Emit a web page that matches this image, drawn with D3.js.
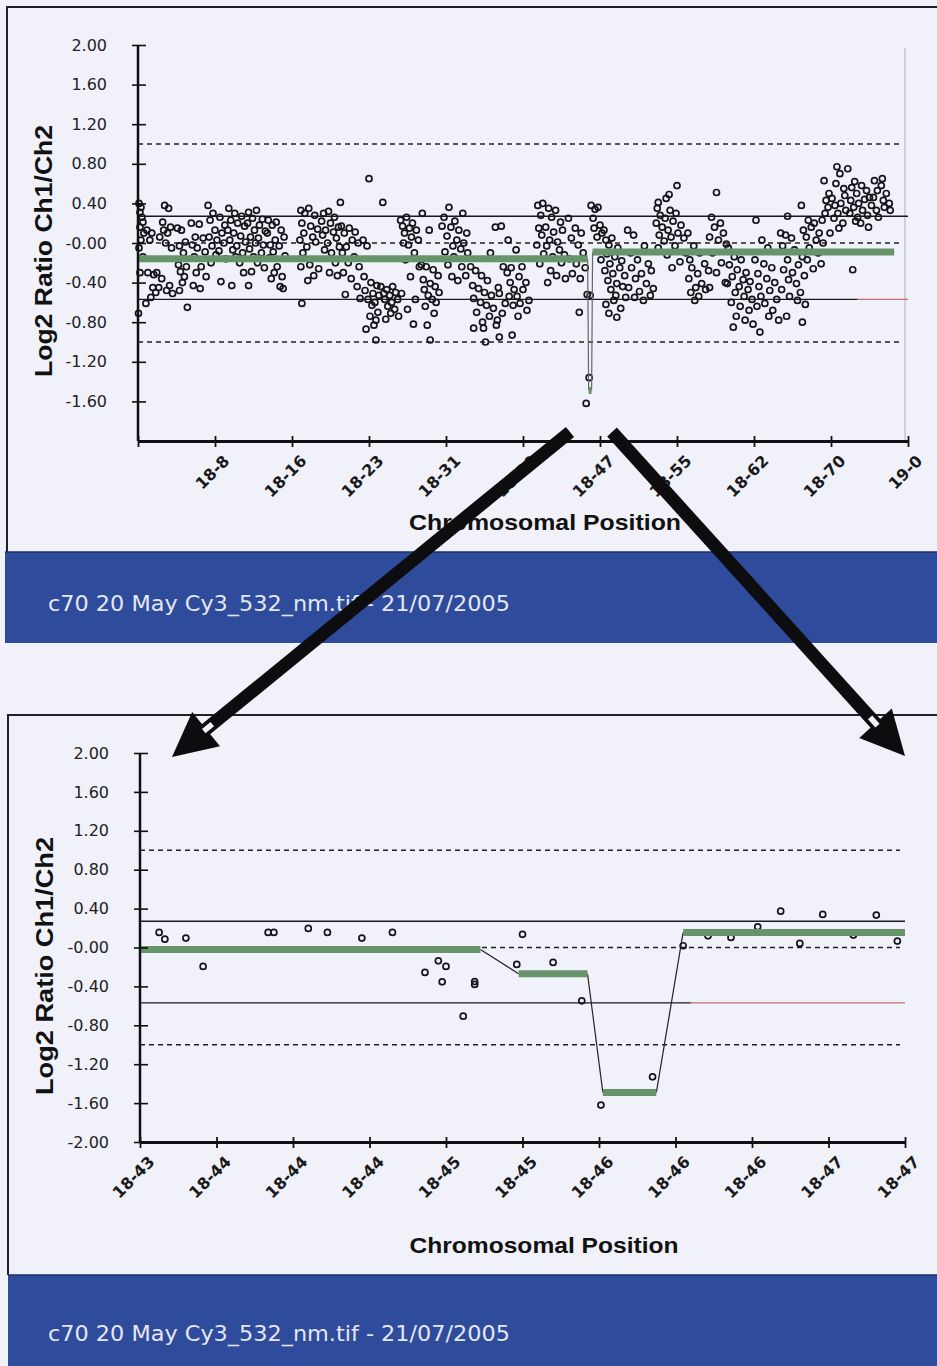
<!DOCTYPE html>
<html>
<head>
<meta charset="utf-8">
<script src="https://cdn.jsdelivr.net/npm/d3@7/dist/d3.min.js"></script>
<style>
  html, body { margin: 0; padding: 0; background: #f1f1f9; }
  svg { display: block; }
</style>
</head>
<body>
<svg id="page" width="937" height="1366"></svg>
<script>
// ---- data (positions in Mb on chromosome 18, values are log2 ratio) ----
var topTickPositions = [0, 7.8, 15.6, 23.4, 31.2, 39.0, 46.8, 54.6, 62.4, 70.2, 78.0]
var topTickLabels = ['', '18-8', '18-16', '18-23', '18-31', '18-39', '18-47', '18-55', '18-62', '18-70', '19-0']
var zoomTickPositions = [43.25, 43.65, 44.05, 44.45, 44.85, 45.25, 45.65, 46.05, 46.45, 46.85, 47.25]
var zoomTickLabels = ['18-43', '18-44', '18-44', '18-44', '18-45', '18-45', '18-46', '18-46', '18-46', '18-47', '18-47']
var yTickValues = [2, 1.6, 1.2, 0.8, 0.4, 0, -0.4, -0.8, -1.2, -1.6, -2]
var yTickLabels = ['2.00', '1.60', '1.20', '0.80', '0.40', '-0.00', '-0.40', '-0.80', '-1.20', '-1.60', '-2.00']
var dashedLevels = [1, 0, -1]
var upperLimit = 0.27
var lowerLimit = -0.57
var topRedFrom = 72.9
var zoomRedFrom = 46.13

// segments: [start, end, mean]
var topSegments = [[0, 45.55, -0.16], [45.65, 45.95, -1.49], [46.05, 76.6, -0.09]]
var zoomSegments = [[43.25, 45.03, -0.02], [45.23, 45.59, -0.27], [45.67, 45.95, -1.49], [46.09, 47.25, 0.155]]

var zoomPoints = [
  [43.35, 0.155], [43.38, 0.086], [43.49, 0.097], [43.58, -0.195], [43.92, 0.155], [43.95, 0.155],
  [44.13, 0.196], [44.23, 0.155], [44.41, 0.097], [44.57, 0.155], [44.74, -0.256], [44.81, -0.137],
  [44.85, -0.195], [44.83, -0.353], [44.94, -0.706], [45.00, -0.35], [45.00, -0.38], [45.25, 0.135],
  [45.22, -0.174], [45.41, -0.153], [45.56, -0.548], [45.66, -1.62], [45.93, -1.33], [46.09, 0.018],
  [46.22, 0.12], [46.34, 0.104], [46.48, 0.213], [46.60, 0.374], [46.70, 0.042], [46.82, 0.34],
  [46.98, 0.128], [47.10, 0.333], [47.21, 0.066]
]

var topPoints = [
  [0.1,0.40],[0.3,0.36],[0.2,0.31],[0.4,0.26],[0.5,0.21],[0.2,0.16],[0.6,0.10],[0.3,0.03],[0.1,-0.05],[0.5,-0.14],[0.2,-0.30],[0.05,-0.71],
  [0.9,0.13],[1.4,0.10],[1.2,0.03],[1.0,-0.30],[1.6,-0.32],[1.9,-0.30],[1.5,-0.45],[1.8,-0.50],[1.3,-0.55],[0.8,-0.61],
  [2.7,0.38],[3.1,0.35],[2.5,0.21],[3.3,0.16],[2.6,0.13],[3.0,0.10],[2.2,0.06],[2.8,0.00],[3.4,-0.05],[2.4,-0.36],[3.2,-0.43],[2.9,-0.48],[3.5,-0.51],[2.1,-0.45],
  [4.0,0.15],[4.4,0.13],[4.8,0.01],[4.2,-0.03],[4.6,-0.10],[4.1,-0.22],[4.9,-0.24],[4.3,-0.29],[4.7,-0.34],[4.5,-0.40],[4.2,-0.48],[5.0,-0.65],
  [5.4,0.20],[6.2,0.19],[5.8,0.06],[6.6,0.05],[5.5,-0.02],[6.0,-0.05],[6.8,-0.09],[5.7,-0.14],[6.4,-0.24],[5.9,-0.30],[6.9,-0.34],[5.6,-0.43],[6.3,-0.46],
  [7.1,0.38],[7.6,0.30],[8.3,0.26],[7.3,0.23],[8.8,0.18],[7.8,0.13],[8.5,0.10],[7.2,0.06],[8.0,0.03],[8.7,0.00],[7.5,-0.03],[8.2,-0.08],[7.9,-0.12],[8.9,-0.16],[7.4,-0.20],[8.4,-0.39],
  [9.2,0.35],[9.8,0.30],[10.5,0.27],[9.4,0.23],[10.1,0.20],[10.8,0.17],[9.1,0.13],[9.7,0.10],[10.4,0.07],[9.3,0.03],[10.9,0.01],[10.0,-0.03],[9.6,-0.07],[10.6,-0.10],[9.9,-0.14],[10.3,-0.20],[9.5,-0.43],[10.7,-0.30],
  [11.2,0.31],[12.0,0.33],[11.6,0.25],[12.6,0.24],[11.1,0.20],[12.3,0.18],[11.8,0.13],[12.9,0.12],[11.4,0.06],[12.2,0.05],[11.9,0.00],[12.7,-0.02],[11.3,-0.06],[12.5,-0.10],[11.7,-0.14],[12.1,-0.20],[12.8,-0.25],[11.5,-0.29],[11.2,-0.43],
  [13.2,0.23],[14.0,0.21],[13.6,0.18],[14.5,0.13],[13.1,0.10],[14.8,0.06],[13.9,0.03],[13.4,-0.02],[14.3,-0.03],[13.7,-0.09],[14.9,-0.13],[13.3,-0.15],[14.1,-0.24],[13.8,-0.30],[14.6,-0.34],[13.5,-0.36],[14.4,-0.44],[14.7,-0.46],
  [16.5,0.33],[17.3,0.35],[16.9,0.30],[17.9,0.28],[16.6,0.20],[17.5,0.17],[18.2,0.14],[16.8,0.10],[17.7,0.06],[16.4,0.03],[18.0,0.01],[17.1,-0.04],[16.7,-0.10],[17.4,-0.22],[18.3,-0.26],[16.5,-0.24],[17.8,-0.33],[17.2,-0.38],[16.6,-0.61],
  [20.5,0.41],[19.3,0.32],[18.8,0.30],[19.9,0.26],[18.6,0.22],[19.5,0.20],[20.3,0.16],[19.0,0.13],[19.8,0.11],[18.7,0.08],[20.1,0.05],[19.2,0.00],[20.4,-0.04],[18.9,-0.07],[19.6,-0.10],[20.0,-0.20],[19.4,-0.30],[20.2,-0.33],
  [20.6,0.17],[21.4,0.15],[22.0,0.11],[20.9,0.10],[21.7,0.03],[22.3,0.00],[21.1,-0.04],[20.7,-0.10],[21.9,-0.14],[21.3,-0.20],[22.4,-0.24],[20.8,-0.30],[21.6,-0.36],[22.2,-0.44],[21.0,-0.52],[22.5,-0.56],
  [23.4,0.65],[22.8,0.03],[23.2,-0.03],[22.9,-0.34],[23.6,-0.40],[24.2,-0.43],[23.0,-0.48],[23.8,-0.51],[24.4,-0.53],[23.3,-0.57],[24.0,-0.60],[23.7,-0.63],[24.3,-0.70],[23.5,-0.74],[24.1,-0.78],[23.9,-0.83],[23.1,-0.87],[24.1,-0.98],
  [24.8,0.41],[24.6,-0.44],[25.2,-0.47],[25.8,-0.44],[24.9,-0.51],[25.5,-0.53],[26.1,-0.50],[25.0,-0.57],[25.7,-0.60],[26.3,-0.57],[25.3,-0.64],[26.0,-0.67],[25.6,-0.71],[26.4,-0.74],[25.1,-0.77],
  [26.6,0.23],[27.2,0.26],[27.8,0.20],[26.8,0.17],[27.5,0.15],[28.2,0.13],[27.0,0.10],[27.7,0.06],[28.4,0.03],[26.9,0.00],[27.4,-0.02],[28.0,-0.10],[27.1,-0.17],[28.5,-0.24],[27.6,-0.34],[26.7,-0.51],[28.1,-0.57],[27.3,-0.67],[27.9,-0.82],
  [28.8,0.30],[29.5,0.13],[28.7,-0.22],[29.2,-0.24],[29.9,-0.27],[30.4,-0.33],[28.9,-0.37],[29.6,-0.41],[30.1,-0.44],[29.0,-0.47],[30.5,-0.50],[29.4,-0.53],[29.8,-0.57],[30.2,-0.60],[29.1,-0.64],[30.0,-0.71],[29.3,-0.83],[29.6,-0.98],
  [31.5,0.36],[32.9,0.30],[31.0,0.26],[32.1,0.22],[30.8,0.17],[31.7,0.16],[32.5,0.13],[33.3,0.10],[31.3,0.07],[32.3,0.03],[33.0,0.00],[31.9,-0.03],[32.7,-0.06],[31.1,-0.09],[33.4,-0.10],[32.0,-0.14],[31.4,-0.22],[32.8,-0.24],[33.2,-0.33],[31.8,-0.34],[32.4,-0.38],
  [33.7,-0.24],[34.2,-0.28],[34.8,-0.33],[35.4,-0.38],[33.9,-0.43],[34.5,-0.46],[35.1,-0.50],[35.8,-0.53],[34.0,-0.56],[34.7,-0.60],[35.3,-0.63],[36.0,-0.66],[34.3,-0.70],[35.6,-0.74],[34.9,-0.80],[35.0,-0.86],[36.3,-0.83],[35.2,-1.00],[36.2,0.16],[35.7,-0.10],[36.5,-0.45],[34.0,-0.86],
  [36.8,0.17],[37.0,-0.24],[36.6,-0.51],[37.2,-0.61],[36.9,-0.71],[36.4,-0.78],[36.6,-0.95],
  [37.5,0.03],[38.3,-0.07],[37.8,-0.25],[38.9,-0.24],[37.4,-0.30],[38.6,-0.34],[39.3,-0.40],[37.7,-0.40],[38.1,-0.47],[39.0,-0.47],[38.4,-0.54],[37.6,-0.54],[39.6,-0.58],[38.7,-0.61],[38.0,-0.63],[39.4,-0.68],[38.5,-0.74],[37.9,-0.93],
  [40.5,0.38],[41.0,0.40],[41.6,0.35],[42.3,0.33],[40.8,0.28],[41.9,0.26],[42.8,0.21],[40.6,0.15],[41.3,0.16],[42.1,0.11],[43.0,0.13],[40.9,0.08],[41.7,0.03],[42.5,0.01],[40.4,-0.02],[41.4,-0.03],[42.7,-0.07],[41.1,-0.11],[42.0,-0.14],[43.2,-0.12],[40.7,-0.21],[41.8,-0.28],[42.9,-0.20],[42.4,-0.33],[41.5,-0.40],[43.3,-0.36],
  [43.6,0.25],[44.3,0.15],[44.9,0.10],[43.9,0.05],[44.6,-0.02],[45.1,-0.10],[43.7,-0.16],[44.4,-0.21],[45.3,-0.25],[44.0,-0.31],[44.8,-0.36],[45.5,-0.52],[44.7,-0.70],[45.4,-1.62],[45.7,-1.36],
  [45.9,0.38],[46.3,0.34],[46.6,0.36],[46.1,0.25],[46.8,0.18],[46.2,0.15],[47.0,0.10],[46.5,0.06],[47.4,0.03],[47.7,-0.02],[46.9,-0.17],[45.8,-0.53],
  [47.2,0.13],[48.0,0.05],[48.6,-0.05],[47.5,-0.11],[48.3,-0.14],[49.0,-0.18],[47.8,-0.21],[48.8,-0.25],[47.3,-0.28],[48.1,-0.31],[49.3,-0.33],[47.6,-0.38],[48.5,-0.41],[49.1,-0.44],[47.9,-0.47],[48.4,-0.53],[49.4,-0.55],[48.2,-0.58],[47.4,-0.62],[48.9,-0.66],[48.5,-0.75],[47.7,-0.71],
  [49.6,0.13],[50.2,0.08],[51.3,-0.03],[49.9,-0.10],[50.6,-0.17],[51.7,-0.21],[50.0,-0.25],[51.0,-0.31],[52.0,-0.28],[50.4,-0.36],[51.5,-0.41],[49.7,-0.45],[50.8,-0.49],[51.9,-0.53],[50.3,-0.55],[51.2,-0.58],[52.2,-0.46],
  [52.7,0.41],[54.6,0.58],[53.8,0.49],[53.5,0.45],[52.6,0.35],[53.9,0.33],[52.9,0.28],[54.5,0.30],[53.4,0.25],[54.2,0.22],[52.5,0.20],[53.1,0.16],[55.0,0.18],[53.7,0.13],[54.7,0.10],[52.8,0.08],[54.0,0.06],[55.3,0.05],[53.3,0.02],[54.4,-0.03],[52.7,-0.05],[55.5,-0.10],[53.6,-0.12],[54.9,-0.19],[54.1,-0.25],
  [55.7,0.10],[56.3,-0.03],[56.9,-0.10],[55.9,-0.17],[57.4,-0.21],[56.1,-0.25],[56.7,-0.31],[57.8,-0.28],[55.8,-0.36],[57.1,-0.41],[56.5,-0.45],[57.5,-0.47],[56.0,-0.50],[56.8,-0.54],[57.9,-0.45],[56.4,-0.58],
  [58.6,0.51],[58.1,0.26],[59.0,0.20],[58.4,0.16],[59.3,0.10],[57.9,0.06],[58.8,0.03],[59.6,-0.01],[58.2,-0.10],[59.1,-0.20],[58.6,-0.30],[59.5,-0.40],
  [59.8,-0.05],[60.4,-0.14],[61.1,-0.17],[59.9,-0.22],[60.7,-0.27],[61.6,-0.30],[60.2,-0.34],[61.3,-0.37],[62.0,-0.39],[59.7,-0.41],[60.9,-0.44],[61.8,-0.47],[60.5,-0.50],[61.4,-0.54],[62.2,-0.57],[60.1,-0.60],[61.0,-0.64],[61.9,-0.68],[60.6,-0.74],[61.5,-0.78],[62.3,-0.82],[60.3,-0.85],
  [62.6,0.23],[63.2,0.03],[63.8,-0.05],[62.5,-0.17],[63.4,-0.21],[64.2,-0.25],[62.8,-0.31],[63.7,-0.36],[64.5,-0.40],[62.9,-0.44],[64.0,-0.48],[63.1,-0.54],[64.7,-0.57],[63.5,-0.61],[62.7,-0.64],[64.3,-0.68],[63.9,-0.74],[64.9,-0.78],[63.0,-0.90],
  [65.1,0.10],[65.6,0.08],[66.2,0.05],[65.3,-0.03],[66.5,-0.07],[67.3,-0.14],[65.8,-0.17],[66.9,-0.22],[65.4,-0.27],[66.3,-0.30],[67.5,-0.33],[65.9,-0.37],[66.7,-0.41],[65.2,-0.47],[67.1,-0.50],[66.0,-0.54],[66.8,-0.58],[65.7,-0.74],[67.6,-0.62],[65.8,0.27],[67.3,-0.80],
  [67.2,0.38],[67.9,0.23],[68.5,0.20],[67.4,0.13],[68.2,0.16],[69.0,0.10],[67.7,0.06],[68.7,0.03],[69.4,0.00],[68.0,-0.05],[68.9,-0.10],[67.8,-0.17],[69.2,-0.21],[68.4,-0.26],
  [69.5,0.63],[70.0,0.50],[70.8,0.77],[71.1,0.70],[69.7,0.43],[70.7,0.60],[71.5,0.55],[69.9,0.36],[70.3,0.45],[71.2,0.40],[70.9,0.30],[71.7,0.33],[69.3,0.23],[70.5,0.25],[71.4,0.20],[70.1,0.10],[71.0,0.15],[69.6,0.30],[70.6,0.38],[71.6,0.48],
  [71.9,0.75],[72.6,0.62],[73.3,0.58],[72.3,0.56],[73.8,0.53],[72.8,0.50],[74.1,0.46],[72.2,0.43],[73.0,0.40],[73.6,0.44],[74.3,0.38],[72.5,0.36],[73.4,0.33],[72.1,0.30],[73.9,0.28],[72.9,0.26],[73.2,0.20],[74.0,0.16],[72.7,0.22],[72.4,-0.27],
  [74.6,0.63],[75.4,0.65],[75.3,0.58],[74.9,0.53],[75.8,0.50],[74.5,0.46],[75.5,0.43],[76.1,0.40],[74.8,0.33],[75.6,0.36],[75.0,0.26],[76.2,0.33]
]

var bannerText = 'c70 20 May Cy3_532_nm.tif - 21/07/2005'
var xTitle = 'Chromosomal Position'
var yTitle = 'Log2 Ratio Ch1/Ch2'

// ---- drawing ----
var svg = d3.select('#page')
svg.append('rect').attr('width', 937).attr('height', 1366).attr('fill', '#f1f1f9')

var panels = [
  {
    points: topPoints, segments: topSegments, xDomain: [0, 78],
    ticks: topTickPositions, tickLabels: topTickLabels, redFrom: topRedFrom,
    xRange: [138, 908], yRange: [441, 45], labelledTicks: 10,
    frame: { left: 7, top: 7, bottom: 552 }, banner: { x: 5, y: 552, h: 91, textY: 611 },
    xt: { x: 545, y: 530, len: 272 }, yt: { x: 52, y: 251, len: 252 },
    rightRule: true, connColor: '#666'
  },
  {
    points: zoomPoints, segments: zoomSegments, xDomain: [43.25, 47.25],
    ticks: zoomTickPositions, tickLabels: zoomTickLabels, redFrom: zoomRedFrom,
    xRange: [140, 905], yRange: [1142, 753], labelledTicks: 11,
    frame: { left: 8, top: 715, bottom: 1275 }, banner: { x: 8, y: 1275, h: 91, textY: 1341 },
    xt: { x: 544, y: 1253, len: 269 }, yt: { x: 53, y: 966, len: 258 },
    rightRule: false, connColor: '#222'
  }
]

panels.forEach(function (p) {
  var x = d3.scaleLinear().domain(p.xDomain).range(p.xRange)
  var y = d3.scaleLinear().domain([-2, 2]).range(p.yRange)
  var g = svg.append('g')
  var x0 = p.xRange[0], x1 = p.xRange[1]

  // frame and banner
  g.append('path')
    .attr('d', 'M' + p.frame.left + ',' + p.frame.bottom + 'V' + p.frame.top + 'H937')
    .attr('fill', 'none').attr('stroke', '#222').attr('stroke-width', 2)
  g.append('rect').attr('x', p.banner.x).attr('y', p.banner.y)
    .attr('width', 937 - p.banner.x).attr('height', p.banner.h).attr('fill', '#2f4b9b')
  g.append('line').attr('x1', p.banner.x).attr('x2', 937).attr('y1', p.banner.y).attr('y2', p.banner.y)
    .attr('stroke', '#1e2f6a').attr('stroke-width', 1.5)
  g.append('text').attr('x', 48).attr('y', p.banner.textY)
    .attr('font-family', 'DejaVu Sans, sans-serif').attr('font-size', 21)
    .attr('fill', '#e4e7f3').attr('textLength', 462).attr('lengthAdjust', 'spacingAndGlyphs')
    .text(bannerText)

  if (p.rightRule) {
    g.append('line').attr('x1', x1 - 3).attr('x2', x1 - 3).attr('y1', y(1.97)).attr('y2', y(-2))
      .attr('stroke', '#c4c4d2').attr('stroke-width', 1.5)
  }

  // threshold lines
  dashedLevels.forEach(function (v) {
    g.append('line').attr('x1', x0).attr('x2', x1 - 5).attr('y1', y(v)).attr('y2', y(v))
      .attr('stroke', '#222').attr('stroke-width', 1.3).attr('stroke-dasharray', '5,4')
  })
  g.append('line').attr('x1', x0).attr('x2', x1).attr('y1', y(upperLimit)).attr('y2', y(upperLimit))
    .attr('stroke', '#1a1a1a').attr('stroke-width', 1.3)
  g.append('line').attr('x1', x0).attr('x2', x(p.redFrom)).attr('y1', y(lowerLimit)).attr('y2', y(lowerLimit))
    .attr('stroke', '#1a1a1a').attr('stroke-width', 1.3)
  g.append('line').attr('x1', x(p.redFrom)).attr('x2', x1).attr('y1', y(lowerLimit)).attr('y2', y(lowerLimit))
    .attr('stroke', '#c86a6a').attr('stroke-width', 1.3)

  // probes
  g.append('g').selectAll('circle').data(p.points).enter().append('circle')
    .attr('cx', function (d) { return x(d[0]) })
    .attr('cy', function (d) { return y(d[1]) })
    .attr('r', 3)
    .attr('fill', 'none').attr('stroke', '#15151a').attr('stroke-width', 1.7)

  // thin connectors between segments
  var conn = []
  for (var i = 0; i < p.segments.length - 1; i++) {
    conn.push([[p.segments[i][1], p.segments[i][2]], [p.segments[i + 1][0], p.segments[i + 1][2]]])
  }
  g.selectAll('.conn').data(conn).enter().append('line').attr('class', 'conn')
    .attr('x1', function (d) { return x(d[0][0]) }).attr('y1', function (d) { return y(d[0][1]) })
    .attr('x2', function (d) { return x(d[1][0]) }).attr('y2', function (d) { return y(d[1][1]) })
    .attr('stroke', p.connColor).attr('stroke-width', 1.2)

  // segment means
  g.selectAll('.seg').data(p.segments).enter().append('line').attr('class', 'seg')
    .attr('x1', function (d) { return x(d[0]) }).attr('x2', function (d) { return x(d[1]) })
    .attr('y1', function (d) { return y(d[2]) }).attr('y2', function (d) { return y(d[2]) })
    .attr('stroke', '#67946a').attr('stroke-width', 7)

  // y axis
  var ya = g.append('g').attr('transform', 'translate(' + x0 + ',0)')
    .call(d3.axisLeft(y).tickValues(yTickValues.slice(0, p.labelledTicks))
      .tickFormat(function (d, i) { return yTickLabels[i] }).tickSizeInner(6).tickSizeOuter(0))
  ya.select('.domain').attr('d', 'M0,' + y(2) + 'V' + y(-2)).attr('stroke', '#111').attr('stroke-width', 2.5)
  ya.selectAll('.tick line').attr('x1', 8).attr('x2', -6).attr('stroke', '#111').attr('stroke-width', 1.6)
  ya.selectAll('.tick text').attr('x', -31).attr('font-family', 'DejaVu Sans, sans-serif')
    .attr('font-size', 16).attr('fill', '#222226')

  // x axis
  var xa = g.append('g').attr('transform', 'translate(0,' + y(-2) + ')')
    .call(d3.axisBottom(x).tickValues(p.ticks)
      .tickFormat(function (d, i) { return p.tickLabels[i] }).tickSizeInner(6).tickSizeOuter(0))
  xa.select('.domain').attr('stroke', '#111').attr('stroke-width', 3)
  xa.selectAll('.tick line').attr('y1', -5).attr('y2', 6).attr('stroke', '#111').attr('stroke-width', 1.8)
  xa.selectAll('.tick text').attr('y', 0).attr('dy', 0).attr('text-anchor', 'end')
    .attr('transform', 'translate(15,21) rotate(-45)')
    .attr('font-family', 'DejaVu Sans, sans-serif').attr('font-weight', 'bold')
    .attr('font-size', 16).attr('fill', '#1a1a1a')

  // titles
  g.append('text').attr('x', p.xt.x).attr('y', p.xt.y).attr('text-anchor', 'middle')
    .attr('font-family', 'Liberation Sans, Arial, sans-serif').attr('font-weight', 'bold')
    .attr('font-size', 22).attr('fill', '#111')
    .attr('textLength', p.xt.len).attr('lengthAdjust', 'spacingAndGlyphs').text(xTitle)
  g.append('text').attr('transform', 'translate(' + p.yt.x + ',' + p.yt.y + ') rotate(-90)')
    .attr('text-anchor', 'middle')
    .attr('font-family', 'Liberation Sans, Arial, sans-serif').attr('font-weight', 'bold')
    .attr('font-size', 24).attr('fill', '#111')
    .attr('textLength', p.yt.len).attr('lengthAdjust', 'spacingAndGlyphs').text(yTitle)
})

// zoom arrows, from the deletion on the whole chromosome to the close-up
var arrows = [{ from: [570, 432], to: [172, 757] }, { from: [612, 432], to: [905, 756] }]
arrows.forEach(function (a) {
  var s = a.from, t = a.to
  var dx = t[0] - s[0], dy = t[1] - s[1], len = Math.hypot(dx, dy)
  var ux = dx / len, uy = dy / len, nx = -uy, ny = ux
  var headLen = 44, headHalf = 22, half = 6.5
  var bx = t[0] - ux * headLen, by = t[1] - uy * headLen
  var pt = function (px, py) { return px.toFixed(1) + ',' + py.toFixed(1) }
  svg.append('polygon').attr('fill', '#0d0d10').attr('points', [
    pt(s[0] + nx * half, s[1] + ny * half), pt(bx + ux + nx * half, by + uy + ny * half),
    pt(bx + ux - nx * half, by + uy - ny * half), pt(s[0] - nx * half, s[1] - ny * half)
  ].join(' '))
  svg.append('polygon').attr('fill', '#0d0d10').attr('points', [
    pt(t[0], t[1]), pt(bx + nx * headHalf, by + ny * headHalf), pt(bx - nx * headHalf, by - ny * headHalf)
  ].join(' '))
  // light notch at the junction of shaft and head
  var cx = bx - ux * 2, cy = by - uy * 2
  svg.append('polygon').attr('fill', '#f4f4fa').attr('points', [
    pt(cx - ux * 6 + nx * 2.8, cy - uy * 6 + ny * 2.8), pt(cx + ux * 5 + nx * 2.8, cy + uy * 5 + ny * 2.8),
    pt(cx + ux * 5 - nx * 2.8, cy + uy * 5 - ny * 2.8), pt(cx - ux * 6 - nx * 2.8, cy - uy * 6 - ny * 2.8)
  ].join(' '))
})
</script>
</body>
</html>
